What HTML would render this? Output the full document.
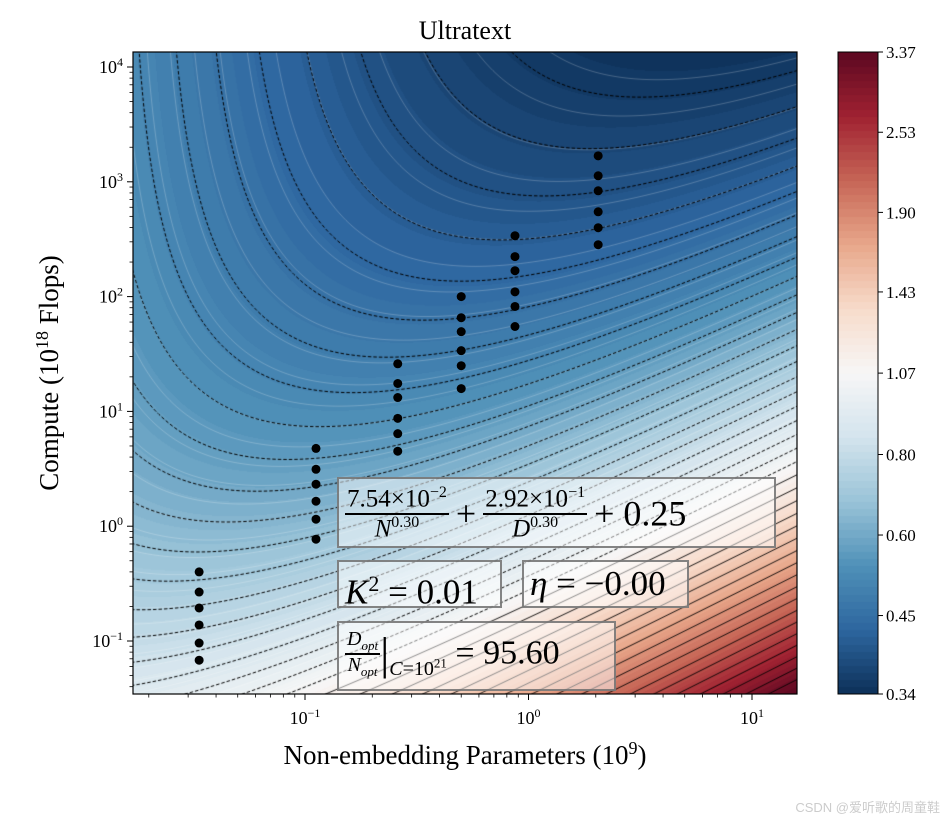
<!DOCTYPE html>
<html><head><meta charset="utf-8"><style>
body{margin:0;background:#fff;width:944px;height:822px;overflow:hidden;position:relative;font-family:"Liberation Serif",serif;}
#cv{position:absolute;left:0;top:0;}
svg{position:absolute;left:0;top:0;}
.box{position:absolute;background:rgba(255,255,255,0.5);border:2px solid rgba(110,110,110,0.85);box-sizing:border-box;color:#000;font-family:"Liberation Serif",serif;white-space:nowrap;}
.fr{display:inline-block;vertical-align:middle;text-align:center;}
.fr .n{display:block;border-bottom:2px solid #000;padding:0 2px;line-height:1.05;}
.fr .d{display:block;line-height:1.05;}
i{font-style:italic;}
</style></head><body>
<canvas id="cv" width="944" height="822"></canvas>
<svg id="sv" width="944" height="822"></svg>

<div class="box" style="left:337px;top:477px;width:439px;height:71px;font-size:28px;padding:6px 0 0 6px;">
<span class="fr" style="font-size:25px"><span class="n">7.54×10<sup style="font-size:16px">−2</sup></span><span class="d"><i>N</i><sup style="font-size:16px">0.30</sup></span></span>
<span style="font-size:36px;vertical-align:middle">+</span>
<span class="fr" style="font-size:25px"><span class="n">2.92×10<sup style="font-size:16px">−1</sup></span><span class="d"><i>D</i><sup style="font-size:16px">0.30</sup></span></span>
<span style="font-size:36px;vertical-align:middle">+ 0.25</span>
</div>
<div class="box" style="left:337px;top:560px;width:165px;height:48px;font-size:35px;padding:0 0 0 6px;line-height:44px;"><i>K</i><sup style="font-size:22px">2</sup> = 0.01</div>
<div class="box" style="left:522px;top:560px;width:167px;height:48px;font-size:35px;padding:0 0 0 6px;line-height:44px;"><i>η</i> = −0.00</div>
<div class="box" style="left:337px;top:621px;width:279px;height:70px;font-size:34px;padding:4px 0 0 6px;">
<span class="fr" style="font-size:20px"><span class="n"><i>D<sub style="font-size:13px">opt</sub></i></span><span class="d"><i>N<sub style="font-size:13px">opt</sub></i></span></span><span style="font-size:46px;vertical-align:middle;font-weight:100">|</span><span style="font-size:20px;vertical-align:-14px"><i>C</i>=10<sup style="font-size:13px">21</sup></span> <span style="vertical-align:middle">= 95.60</span>
</div>

<script>
// ---- data ----
const coefA = 0.0754, coefB = 0.292, expAlpha = 0.30, expBeta = 0.30, lossE = 0.25;
const paramCounts = [0.0336, 0.112, 0.26, 0.50, 0.87, 2.05];
const computeRuns = [
  [0.40, 0.267, 0.194, 0.138, 0.096, 0.068],
  [4.76, 3.13, 2.32, 1.65, 1.15, 0.77],
  [26, 17.5, 13.2, 8.7, 6.4, 4.5],
  [100, 65.5, 49.5, 33.8, 25, 15.8],
  [339, 223, 168, 110, 82, 54.9],
  [1683, 1128, 835, 548, 398, 283]
];
const xTicks = [-1, 0, 1];
const yTicks = [-1, 0, 1, 2, 3, 4];
const cbarTicks = ["0.34","0.45","0.60","0.80","1.07","1.43","1.90","2.53","3.37"];
const lossMin = 0.34, lossMax = 3.37;

// ---- axes ----
const PL=133, PR=797, PT=52, PB=694;
const xOf = n => 305 + (Math.log10(n) + 1) * 223.5;
const yOf = c => 641 - (Math.log10(c) + 1) * 114.8;
const nOf = x => Math.pow(10, (x - 305) / 223.5 - 1);
const cOf = y => Math.pow(10, (641 - y) / 114.8 - 1);
function loss(n, c){ const d = c*1e18/(6*n*1e9)/1e9; return coefA/Math.pow(n,expAlpha)+coefB/Math.pow(d,expBeta)+lossE; }

const stops=[[5,48,97],[33,102,172],[67,147,195],[146,197,222],[209,229,240],[247,247,247],[253,219,199],[244,165,130],[214,96,77],[178,24,43],[103,0,31]];
function cmap(t){t=Math.max(0,Math.min(1,t));const p=t*10,i=Math.min(9,Math.floor(p)),f=p-i;const a=stops[i],b=stops[i+1];
let r=a[0]+(b[0]-a[0])*f,g=a[1]+(b[1]-a[1])*f,bl=a[2]+(b[2]-a[2])*f;const m=(r+g+bl)/3,s=0.82;
return [m+(r-m)*s,m+(g-m)*s,m+(bl-m)*s];}
const lnMin=Math.log(lossMin), lnMax=Math.log(lossMax);
const norm = L => (Math.log(L)-lnMin)/(lnMax-lnMin);

const cv=document.getElementById('cv'), ctx=cv.getContext('2d');
const W=PR-PL, H=PB-PT, img=ctx.createImageData(W,H);
const nb=90;
for(let y=0;y<H;y++){const c=cOf(PT+y+0.5);for(let x=0;x<W;x++){const n=nOf(PL+x+0.5);let t=norm(loss(n,c));t=Math.floor(t*nb)/nb+0.5/nb;const col=cmap(t);const k=(y*W+x)*4;img.data[k]=col[0];img.data[k+1]=col[1];img.data[k+2]=col[2];img.data[k+3]=255;}}
ctx.putImageData(img,PL,PT);

ctx.save();ctx.beginPath();ctx.rect(PL,PT,W,H);ctx.clip();
function contour(L, style, w, dash){
  ctx.beginPath();let started=false;
  for(let x=PL-2;x<=PR+2;x+=1){const n=nOf(x);const r=L-lossE-coefA/Math.pow(n,expAlpha);
    if(r<=0){started=false;continue;}
    const dB=Math.pow(coefB/r,1/expBeta); const c=6*n*1e9*dB*1e9/1e18; const y=yOf(c);
    if(y<PT-400){ if(started){ctx.lineTo(x,Math.max(y,PT-400));} started=false; continue;}
    if(!started){ctx.moveTo(x,Math.min(y,PB+400));started=true;} else ctx.lineTo(x,Math.min(y,PB+400));}
  ctx.strokeStyle=style;ctx.lineWidth=w;ctx.setLineDash(dash);ctx.stroke();
}
// white filled-contour boundaries
const nWhite=70;
for(let i=1;i<nWhite;i++){const L=Math.exp(lnMin+(lnMax-lnMin)*i/nWhite);if(L>1.2)continue;contour(L,'rgba(255,255,255,0.33)',0.7,[]);}
// black contour levels: uniform in log(L - 0.086)
const lvShift=0.086, gMin=Math.log(lossMin-lvShift), gMax=Math.log(lossMax-lvShift), nLev=40;
for(let i=1;i<nLev;i++){const L=lvShift+Math.exp(gMin+(gMax-gMin)*i/nLev);contour(L,'#000',L<1.1?1.0:0.9,L<1.1?[3.5,2]:[]);}
ctx.restore();

// colorbar
const cbx=838,cbw=40;
for(let y=PT;y<PB;y++){const t=1-(y-PT)/(PB-PT);const col=cmap(Math.floor(t*nb)/nb+0.5/nb);ctx.fillStyle=`rgb(${col[0]|0},${col[1]|0},${col[2]|0})`;ctx.fillRect(cbx,y,cbw,1);}

// ---- svg overlay ----
const sv=document.getElementById('sv'),NS='http://www.w3.org/2000/svg';
function el(t,a,txt){const e=document.createElementNS(NS,t);for(const k in a)e.setAttribute(k,a[k]);if(txt!==undefined)e.textContent=txt;sv.appendChild(e);return e;}
paramCounts.forEach((n,i)=>{computeRuns[i].forEach(c=>{const p=el('circle',{cx:xOf(n),cy:yOf(c),r:4.5,fill:'#000'});

});});
const fr=el('rect',{x:PL,y:PT,width:W,height:H,fill:'none',stroke:'#000','stroke-width':1.2});


for(let d=-2;d<=1;d++)for(let m=1;m<10;m++){const v=m*Math.pow(10,d);const x=xOf(v);if(x<PL||x>PR)continue;el('line',{x1:x,x2:x,y1:PB,y2:PB+(m==1?6:3.5),stroke:'#000','stroke-width':m==1?1:0.8});}
xTicks.forEach(e=>{const t=el('text',{x:xOf(Math.pow(10,e)),y:PB+30,'text-anchor':'middle','font-size':18,'font-family':'Liberation Serif, serif'});


t.innerHTML=`10<tspan dy="-7" font-size="12">${e<0?'−'+(-e):e}</tspan>`;});
for(let d=-2;d<=4;d++)for(let m=1;m<10;m++){const v=m*Math.pow(10,d);const y=yOf(v);if(y<PT||y>PB)continue;el('line',{x1:PL,x2:PL-(m==1?6:3.5),y1:y,y2:y,stroke:'#000','stroke-width':m==1?1:0.8});}
yTicks.forEach(e=>{const t=el('text',{x:PL-10,y:yOf(Math.pow(10,e))+6,'text-anchor':'end','font-size':18,'font-family':'Liberation Serif, serif'});


t.innerHTML=`10<tspan dy="-7" font-size="12">${e<0?'−'+(-e):e}</tspan>`;});
const ti=el('text',{x:465,y:39,'text-anchor':'middle','font-size':26,'font-family':'Liberation Serif, serif'},'Ultratext');


const xl=el('text',{x:465,y:764,'text-anchor':'middle','font-size':27,'font-family':'Liberation Serif, serif'});
xl.innerHTML='Non-embedding Parameters (10<tspan dy="-10" font-size="18">9</tspan><tspan dy="10">)</tspan>';


const yl=el('text',{x:0,y:0,'text-anchor':'middle','font-size':27,'font-family':'Liberation Serif, serif',transform:'translate(58,373) rotate(-90)'});
yl.innerHTML='Compute (10<tspan dy="-10" font-size="18">18</tspan><tspan dy="10"> Flops)</tspan>';


const cf=el('rect',{x:cbx,y:PT,width:cbw,height:H,fill:'none',stroke:'#000','stroke-width':1});


cbarTicks.forEach((s,i)=>{const v=parseFloat(s);const y=PB-(PB-PT)*norm(v===3.37?lossMax:v===0.34?lossMin:v);
el('line',{x1:cbx+cbw,x2:cbx+cbw+5,y1:y,y2:y,stroke:'#000'});
const t=el('text',{x:cbx+cbw+8,y:y+6,'font-size':17,'font-family':'Liberation Serif, serif'},s);

});
const wm=el('text',{x:940,y:812,'text-anchor':'end','font-size':13,fill:'#ccc','font-family':'Liberation Sans, Noto Sans CJK SC, sans-serif'},'CSDN @爱听歌的周童鞋');


</script>
</body></html>
